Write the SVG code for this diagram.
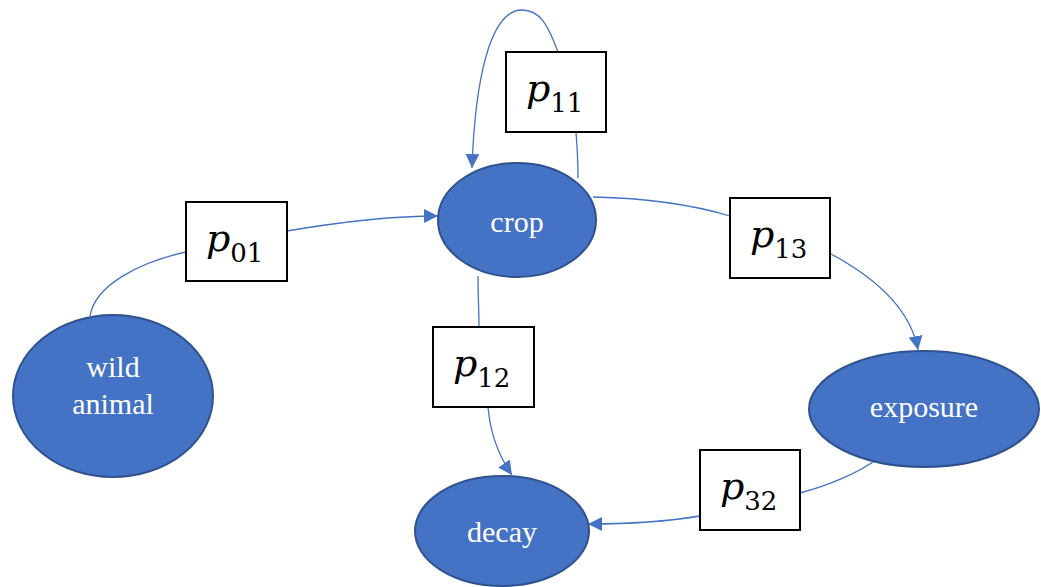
<svg xmlns="http://www.w3.org/2000/svg" width="1041" height="587" viewBox="0 0 1041 587">
<defs>
<marker id="arr" markerUnits="userSpaceOnUse" markerWidth="16" markerHeight="14" refX="14" refY="7" orient="auto">
<path d="M0,0 L14,7 L0,14 Z" fill="#4472C4"/>
</marker>
<style>
.node{fill:#4472C4;stroke:#2F528F;stroke-width:2}
.lbl{font-size:30px;fill:#fff;text-anchor:middle}
.box{fill:#fff;stroke:#000;stroke-width:2}
.p{font-style:italic;font-size:38px;fill:#000}
.sub{font-style:normal;font-size:26px}
.c{fill:none;stroke:#4472C4;stroke-width:1.3}
</style>
</defs>
<rect width="1041" height="587" fill="#fff"/>
<g id="connectors">
<path class="c" d="M90,316 C95,285 140,262 186,252"/>
<path class="c" d="M287,231 C340,222 390,216 438,216" marker-end="url(#arr)"/>
<path class="c" d="M578,178 C578,160 577,145 576,132"/>
<path class="c" d="M558,52 C548,25 540,10 522,10 C490,10 475,80 472,168" marker-end="url(#arr)"/>
<path class="c" d="M593,197 C640,198 690,204 730,216"/>
<path class="c" d="M831,254 C870,275 910,305 918,350" marker-end="url(#arr)"/>
<path class="c" d="M478,276 C478,295 479,312 479,327"/>
<path class="c" d="M488,407 C490,430 498,455 512,475" marker-end="url(#arr)"/>
<path class="c" d="M877,459 C860,472 830,485 800,493"/>
<path class="c" d="M700,516 C670,521 630,524 588,524" marker-end="url(#arr)"/>
</g>
<g id="crop" font-family="Liberation Serif, serif"><ellipse class="node" cx="517" cy="220" rx="79" ry="57"/><text class="lbl" x="517" y="232">crop</text></g>
<g id="wild" font-family="Liberation Serif, serif"><ellipse class="node" cx="113" cy="396" rx="100" ry="81"/><text class="lbl" x="113" y="377">wild</text><text class="lbl" x="113" y="414">animal</text></g>
<g id="exposure" font-family="Liberation Serif, serif"><ellipse class="node" cx="924" cy="409" rx="115" ry="58"/><text class="lbl" x="924" y="417">exposure</text></g>
<g id="decay" font-family="Liberation Serif, serif"><ellipse class="node" cx="502" cy="531" rx="87" ry="55"/><text class="lbl" x="502" y="542">decay</text></g>
<g id="p11" font-family="DejaVu Serif, serif"><rect class="box" x="506" y="52" width="100" height="80"/><text class="p" x="526" y="101">p<tspan class="sub" dy="11">11</tspan></text></g>
<g id="p01" font-family="DejaVu Serif, serif"><rect class="box" x="186" y="202" width="101" height="79"/><text class="p" x="206" y="251">p<tspan class="sub" dy="11">01</tspan></text></g>
<g id="p13" font-family="DejaVu Serif, serif"><rect class="box" x="730" y="198" width="100" height="80"/><text class="p" x="750" y="247">p<tspan class="sub" dy="11">13</tspan></text></g>
<g id="p12" font-family="DejaVu Serif, serif"><rect class="box" x="433" y="327" width="101" height="80"/><text class="p" x="453" y="376">p<tspan class="sub" dy="11">12</tspan></text></g>
<g id="p32" font-family="DejaVu Serif, serif"><rect class="box" x="700" y="450" width="100" height="80"/><text class="p" x="720" y="499">p<tspan class="sub" dy="11">32</tspan></text></g>
</svg>
